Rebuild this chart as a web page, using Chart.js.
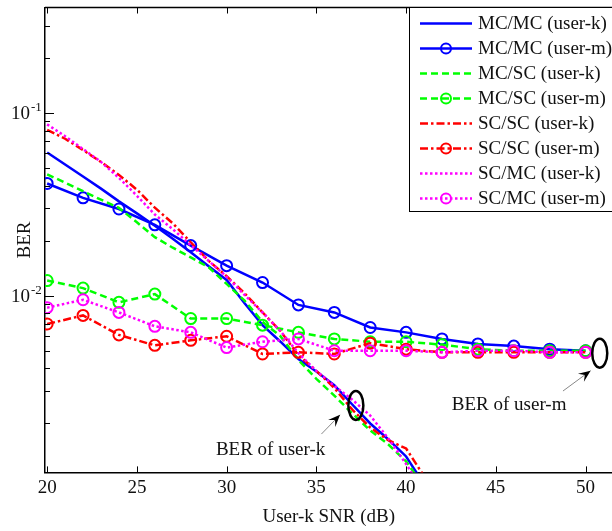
<!DOCTYPE html>
<html>
<head>
<meta charset="utf-8">
<script src="https://cdn.jsdelivr.net/npm/chart.js@4.4.0/dist/chart.umd.min.js"></script>
<style>
    html, body { margin: 0; padding: 0; background: #fff; overflow: hidden; }
    #wrap { width: 620px; height: 531px; }
</style>
</head>
<body>
<div id="wrap"><canvas id="berChart" width="620" height="531"></canvas></div>
<script>
// ============================================================================
// Data
// ============================================================================
const snrUserK = [20, 21, 22, 23, 24, 25, 26, 27, 28, 29, 30, 31, 32, 33, 34, 35, 36, 37, 38, 39, 40, 41];
const snrUserM = [20, 22, 24, 26, 28, 30, 32, 34, 36, 38, 40, 42, 44, 46, 48, 50];

const berMcMcK = [0.0607, 0.0522, 0.0449, 0.0385, 0.0328, 0.0282, 0.0241, 0.0205, 0.0173, 0.0145, 0.0122, 0.0091, 0.0069, 0.0056, 0.0045, 0.00385, 0.00324, 0.00254, 0.0020, 0.00164, 0.00132, 0.00093];
const berMcScK = [0.0461, 0.0415, 0.0373, 0.0335, 0.0302, 0.0252, 0.0209, 0.0183, 0.0162, 0.0143, 0.0116, 0.0094, 0.0072, 0.0060, 0.00445, 0.00351, 0.00284, 0.00227, 0.00183, 0.00154, 0.00124, 0.0009];
const berScScK = [0.0808, 0.0722, 0.0626, 0.0539, 0.0458, 0.0380, 0.0303, 0.0249, 0.0196, 0.0155, 0.0128, 0.0103, 0.0081, 0.0064, 0.00473, 0.00388, 0.00313, 0.00238, 0.0019, 0.00162, 0.00146, 0.00103];
const berScMcK = [0.0865, 0.0745, 0.0634, 0.0539, 0.0441, 0.0352, 0.0278, 0.0231, 0.0189, 0.0155, 0.0127, 0.0101, 0.0081, 0.0064, 0.00485, 0.00388, 0.00321, 0.0027, 0.00221, 0.00166, 0.0012, 0.00085];

const berMcMcM = [0.0411, 0.0343, 0.0298, 0.0244, 0.0188, 0.0146, 0.0118, 0.0089, 0.0081, 0.0067, 0.0063, 0.0058, 0.00545, 0.0053, 0.0051, 0.0050];
const berMcScM = [0.0121, 0.0110, 0.0092, 0.0102, 0.0075, 0.0075, 0.0069, 0.0063, 0.0058, 0.0056, 0.0056, 0.0054, 0.0051, 0.0050, 0.0050, 0.0050];
const berScScM = [0.0070, 0.0078, 0.0061, 0.00535, 0.0057, 0.0060, 0.0048, 0.0049, 0.0048, 0.0055, 0.0051, 0.0049, 0.0049, 0.0049, 0.0049, 0.0049];
const berScMcM = [0.0086, 0.0095, 0.0081, 0.0068, 0.0063, 0.0052, 0.0056, 0.0058, 0.0050, 0.0050, 0.0050, 0.0049, 0.0050, 0.0050, 0.0049, 0.0049];

const seriesLabels = [
    'MC/MC (user-k)', 'MC/MC (user-m)', 'MC/SC (user-k)', 'MC/SC (user-m)',
    'SC/SC (user-k)', 'SC/SC (user-m)', 'SC/MC (user-k)', 'SC/MC (user-m)'
];

const xTicks = [20, 25, 30, 35, 40, 45, 50];
const yMajorTicks = [0.01, 0.1];
const yMajorExponents = ['-2', '-1'];
const yMinorTicks = [0.002, 0.003, 0.004, 0.005, 0.006, 0.007, 0.008, 0.009,
                     0.02, 0.03, 0.04, 0.05, 0.06, 0.07, 0.08, 0.09, 0.2, 0.3];

// annotation anchors, in data units
const noteUserK = { cx: 37.2, cy: 0.00251, tailX: 35.28, tailY: 0.00175, headX: 36.32, headY: 0.00223, textX: 32.45, textY: 0.00144, text: 'BER of user-k' };
const noteUserM = { cx: 50.79, cy: 0.00485, tailX: 48.74, tailY: 0.00301, headX: 50.28, headY: 0.00389, textX: 45.74, textY: 0.00251, text: 'BER of user-m' };

const serif = '"Liberation Serif", "Times New Roman", serif';

// ============================================================================
// Helpers
// ============================================================================
function toPoints(xs, ys) {
    return xs.map((x, i) => ({ x: x, y: ys[i] }));
}

function makeSeries(idx, xs, ys, color, dash, withMarker) {
    return {
        label: seriesLabels[idx],
        data: toPoints(xs, ys),
        borderColor: color,
        backgroundColor: color,
        borderWidth: 2.5,
        borderDash: dash,
        pointRadius: withMarker ? 5.5 : 0,
        pointBorderWidth: 2,
        pointBorderColor: color,
        pointBackgroundColor: 'rgba(0,0,0,0)',
        pointStyle: 'circle',
        tension: 0,
        order: 10 - idx
    };
}

const blueDash = [];
const greenDash = [7, 4];
const redDash = [8, 3, 2.5, 3];
const magentaDash = [2.5, 2.5];

// ============================================================================
// Plugins
// ============================================================================
const frameTicks = {
    id: 'frameTicks',
    afterDatasetsDraw(chart) {
        const { ctx, chartArea: a, scales: { x, y } } = chart;
        ctx.save();
        ctx.strokeStyle = '#000';
        ctx.lineWidth = 1.5;
        ctx.beginPath();
        ctx.moveTo(a.left, a.top);
        ctx.lineTo(a.right + 10, a.top);
        ctx.stroke();

        ctx.lineWidth = 1;
        xTicks.forEach(v => {
            const px = Math.round(x.getPixelForValue(v)) + 0.5;
            ctx.beginPath();
            ctx.moveTo(px, a.bottom);
            ctx.lineTo(px, a.bottom - 6);
            ctx.moveTo(px, a.top);
            ctx.lineTo(px, a.top + 6);
            ctx.stroke();
        });
        yMinorTicks.forEach(v => {
            const py = Math.round(y.getPixelForValue(v)) + 0.5;
            ctx.beginPath();
            ctx.moveTo(a.left, py);
            ctx.lineTo(a.left + 5, py);
            ctx.stroke();
        });
        yMajorTicks.forEach((v, i) => {
            const py = Math.round(y.getPixelForValue(v)) + 0.5;
            ctx.beginPath();
            ctx.moveTo(a.left, py);
            ctx.lineTo(a.left + 9, py);
            ctx.stroke();

            ctx.fillStyle = '#111';
            ctx.font = '19px ' + serif;
            ctx.textAlign = 'right';
            ctx.textBaseline = 'middle';
            ctx.fillText('10', a.left - 15, py + 1);
            ctx.font = '13px ' + serif;
            ctx.textAlign = 'left';
            ctx.fillText(yMajorExponents[i], a.left - 14, py - 6);
        });
        ctx.restore();
    }
};

function drawArrow(ctx, x0, y0, x1, y1) {
    ctx.strokeStyle = '#888';
    ctx.lineWidth = 1;
    ctx.beginPath();
    ctx.moveTo(x0, y0);
    ctx.lineTo(x1, y1);
    ctx.stroke();
    const ang = Math.atan2(y1 - y0, x1 - x0);
    const len = 12, half = 5;
    const bx = x1 - len * Math.cos(ang), by = y1 - len * Math.sin(ang);
    const nx = -Math.sin(ang), ny = Math.cos(ang);
    const ix = x1 - 0.6 * len * Math.cos(ang), iy = y1 - 0.6 * len * Math.sin(ang);
    ctx.fillStyle = '#000';
    ctx.beginPath();
    ctx.moveTo(x1, y1);
    ctx.lineTo(bx + nx * half, by + ny * half);
    ctx.lineTo(ix, iy);
    ctx.lineTo(bx - nx * half, by - ny * half);
    ctx.closePath();
    ctx.fill();
}

const notes = {
    id: 'notes',
    afterDatasetsDraw(chart) {
        const { ctx, scales: { x, y } } = chart;
        ctx.save();
        [noteUserK, noteUserM].forEach(n => {
            ctx.strokeStyle = '#000';
            ctx.lineWidth = 2.5;
            ctx.beginPath();
            ctx.ellipse(x.getPixelForValue(n.cx), y.getPixelForValue(n.cy), 7.5, 14.5, 0, 0, Math.PI * 2);
            ctx.stroke();
            drawArrow(ctx, x.getPixelForValue(n.tailX), y.getPixelForValue(n.tailY),
                           x.getPixelForValue(n.headX), y.getPixelForValue(n.headY));
            ctx.fillStyle = '#111';
            ctx.font = '19px ' + serif;
            ctx.textAlign = 'center';
            ctx.textBaseline = 'middle';
            ctx.fillText(n.text, x.getPixelForValue(n.textX), y.getPixelForValue(n.textY));
        });
        ctx.restore();
    }
};

const boxLegend = {
    id: 'boxLegend',
    afterDraw(chart) {
        const { ctx, chartArea: a } = chart;
        const left = 409.5, top = a.top, rowH = 25;
        ctx.save();
        ctx.fillStyle = '#fff';
        ctx.fillRect(left, top, 260, 204);
        ctx.strokeStyle = '#000';
        ctx.lineWidth = 1;
        ctx.strokeRect(left, top, 260, 204);
        chart.data.datasets.forEach((ds, i) => {
            const yy = top + 16 + i * rowH;
            ctx.strokeStyle = ds.borderColor;
            ctx.lineWidth = ds.borderWidth;
            ctx.setLineDash(ds.borderDash);
            ctx.beginPath();
            ctx.moveTo(420, yy);
            ctx.lineTo(472, yy);
            ctx.stroke();
            ctx.setLineDash([]);
            if (ds.pointRadius > 0) {
                ctx.lineWidth = ds.pointBorderWidth;
                ctx.beginPath();
                ctx.arc(446, yy, 5, 0, Math.PI * 2);
                ctx.stroke();
            }
            ctx.fillStyle = '#111';
            ctx.font = '19px ' + serif;
            ctx.textAlign = 'left';
            ctx.textBaseline = 'middle';
            ctx.fillText(ds.label, 478, yy + 1);
        });
        ctx.restore();
    }
};

// ============================================================================
// Chart
// ============================================================================
const ctx = document.getElementById('berChart').getContext('2d');
new Chart(ctx, {
    type: 'line',
    data: {
        datasets: [
            makeSeries(0, snrUserK, berMcMcK, '#0000ff', blueDash, false),
            makeSeries(1, snrUserM, berMcMcM, '#0000ff', blueDash, true),
            makeSeries(2, snrUserK, berMcScK, '#00ff00', greenDash, false),
            makeSeries(3, snrUserM, berMcScM, '#00ff00', greenDash, true),
            makeSeries(4, snrUserK, berScScK, '#ff0000', redDash, false),
            makeSeries(5, snrUserM, berScScM, '#ff0000', redDash, true),
            makeSeries(6, snrUserK, berScMcK, '#ff00ff', magentaDash, false),
            makeSeries(7, snrUserM, berScMcM, '#ff00ff', magentaDash, true)
        ]
    },
    options: {
        responsive: false,
        animation: false,
        devicePixelRatio: 1,
        layout: { padding: { left: 0, right: 4, top: 6, bottom: 0 } },
        plugins: {
            legend: { display: false },
            tooltip: { enabled: false }
        },
        scales: {
            x: {
                type: 'linear',
                min: 19.88,
                max: 51.5,
                afterBuildTicks: scale => { scale.ticks = xTicks.map(v => ({ value: v })); },
                grid: { display: false, drawTicks: false },
                border: { display: true, color: '#000', width: 1.5 },
                ticks: {
                    padding: 4,
                    color: '#111',
                    font: { family: serif, size: 19 },
                    maxRotation: 0
                },
                title: {
                    display: true,
                    text: 'User-k SNR (dB)',
                    color: '#111',
                    font: { family: serif, size: 19 },
                    padding: { top: 2, bottom: 3 }
                }
            },
            y: {
                type: 'logarithmic',
                min: 0.00108,
                max: 0.377,
                grid: { display: false, drawTicks: false },
                border: { display: true, color: '#000', width: 1.5 },
                ticks: { display: false },
                title: {
                    display: true,
                    text: 'BER',
                    color: '#111',
                    font: { family: serif, size: 19 },
                    padding: { top: 14, bottom: 8.2 }
                }
            }
        }
    },
    plugins: [frameTicks, notes, boxLegend]
});
</script>
</body>
</html>
